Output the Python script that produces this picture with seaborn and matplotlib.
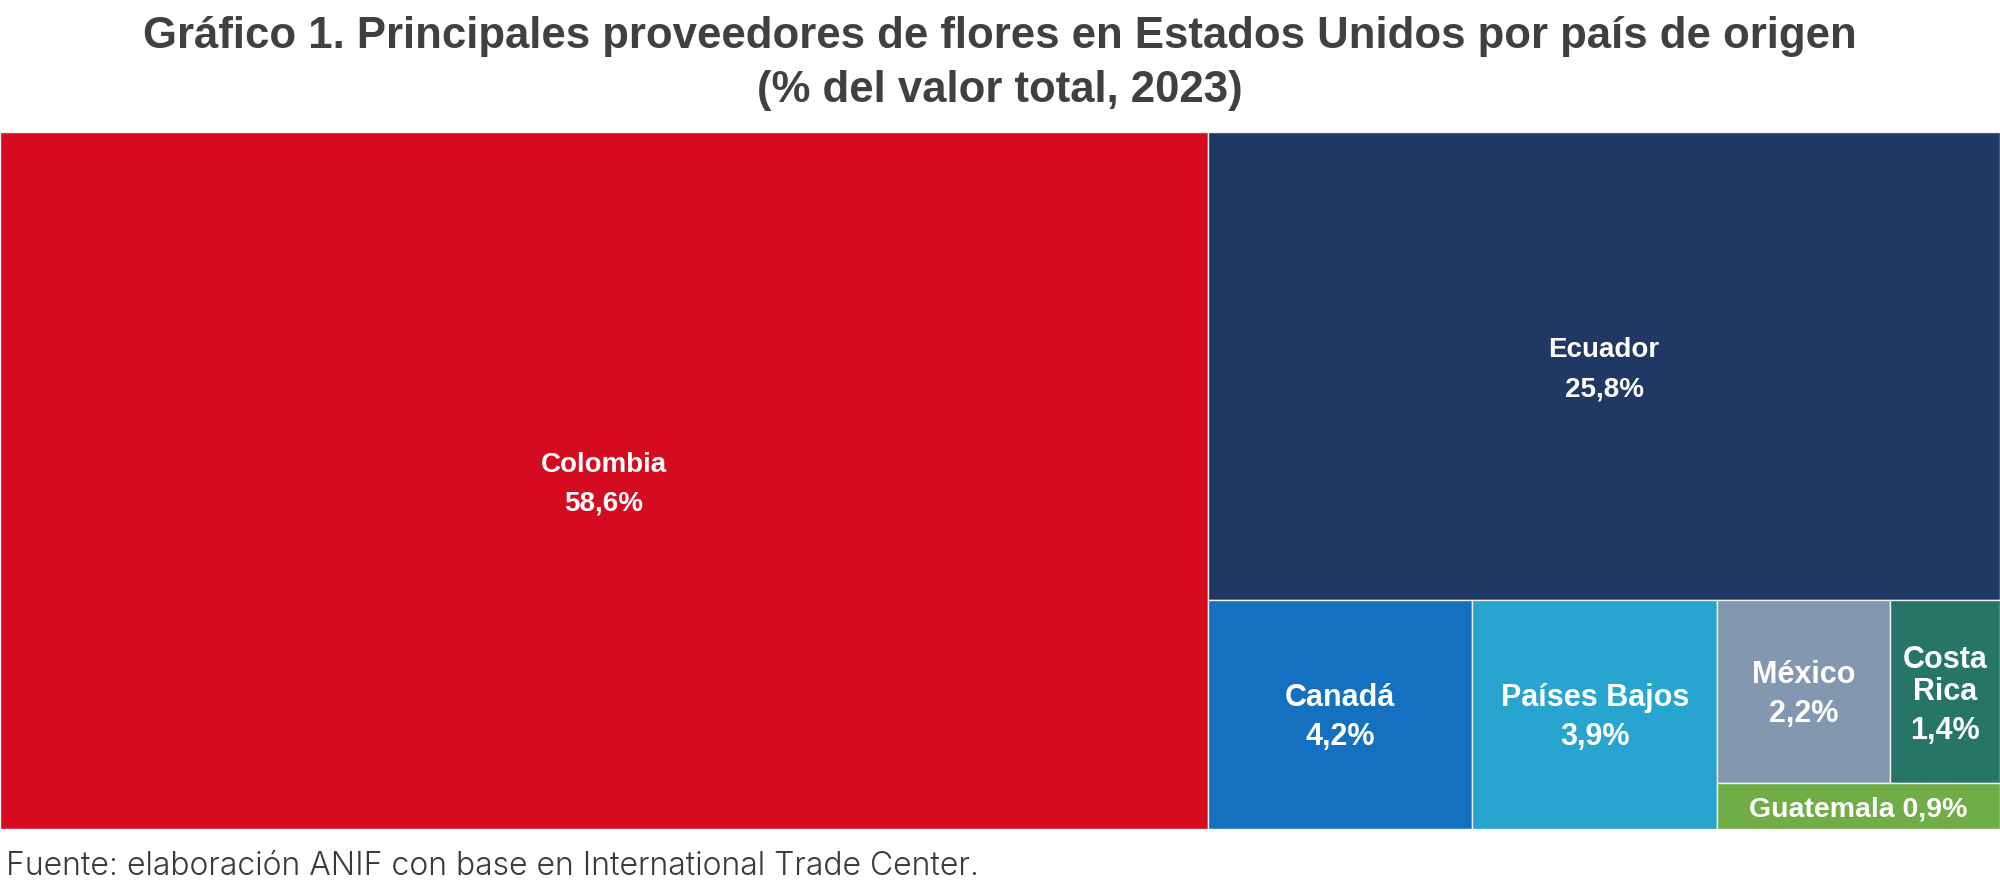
import matplotlib
matplotlib.use("Agg")
import matplotlib.pyplot as plt
from matplotlib.patches import Rectangle
import seaborn as sns

# data: share of US flower imports by origin (%, 2023)
countries = ["Colombia", "Ecuador", "Canadá", "Países Bajos", "México", "Costa Rica", "Guatemala"]
shares = [58.6, 25.8, 4.2, 3.9, 2.2, 1.4, 0.9]
tile_names = ["Colombia", "Ecuador", "Canadá", "Países Bajos", "México", "Costa\nRica", "Guatemala"]
colors = ["#D50C1F", "#203864", "#1570C0", "#27A5CF", "#8497B0", "#267566", "#70AD47"]
label_size = [20, 20, 22, 22, 22, 22, 20.5]
one_line = [False, False, False, False, False, False, True]

title_1 = "Gráfico 1. Principales proveedores de flores en Estados Unidos por país de origen"
title_2 = "(% del valor total, 2023)"
source = "Fuente: elaboración ANIF con base en International Trade Center."

# nesting of the slice-and-dice layout (indices into the lists above)
layout = [0, [1, [2, 3, [[4, 5], 6]]]]


def node_total(node):
    if isinstance(node, int):
        return shares[node]
    return sum(node_total(n) for n in node)


def slice_dice(node, x, y, w, h, horizontal, out):
    """Split the rectangle among children, alternating direction each level."""
    if isinstance(node, int):
        out[node] = (x, y, w, h)
        return
    total = node_total(node)
    pos = 0.0
    for child in node:
        frac = node_total(child) / total
        if horizontal:
            slice_dice(child, x + pos * w, y, frac * w, h, False, out)
        else:
            slice_dice(child, x, y + h - (pos + frac) * h, w, frac * h, True, out)
        pos += frac


sns.set_theme(style="white")
plt.rcParams["font.family"] = ["Liberation Sans", "DejaVu Sans"]

fig = plt.figure(figsize=(20, 8.81), dpi=100)
ax = fig.add_axes([0, 52 / 881, 1, 697 / 881])
ax.set_xlim(0, 1)
ax.set_ylim(0, 1)
ax.axis("off")

rects = {}
slice_dice(layout, 0, 0, 1, 1, True, rects)

PX = 0.72  # pixels -> points at dpi 100
for i, name in enumerate(countries):
    x, y, w, h = rects[i]
    ax.add_patch(Rectangle((x, y), w, h, facecolor=colors[i],
                           edgecolor="#f0f0f0", linewidth=1))
    pct = f"{shares[i]:.1f}%".replace(".", ",")
    if one_line[i]:
        lines = [tile_names[i] + " " + pct]
        gaps = []
    else:
        lines = tile_names[i].split("\n") + [pct]
        gaps = [32] * (len(lines) - 2) + [39]
    # baselines in px below the tile centre, their mean sitting ~10.5px low
    offs = [0.0]
    for g in gaps:
        offs.append(offs[-1] + g)
    shift = 10.5 - sum(offs) / len(offs)
    for line, off in zip(lines, offs):
        ax.annotate(line, (x + w / 2, y + h / 2), xytext=(0, -(off + shift) * PX),
                    textcoords="offset points", ha="center", va="baseline",
                    color="white", fontsize=label_size[i], fontweight="bold")

fig.text(0.5, 1 - 48 / 881, title_1, ha="center", va="baseline",
         fontsize=31.5, fontweight="bold", color="#404040")
fig.text(0.5, 1 - 102 / 881, title_2, ha="center", va="baseline",
         fontsize=31.5, fontweight="bold", color="#404040")
fig.text(6 / 2000, 1 - 875 / 881, source, ha="left", va="baseline",
         fontsize=23, color="#3a3a3a", family=["Inter", "DejaVu Sans"],
         fontweight=300)

fig.savefig("out.png", dpi=100)
